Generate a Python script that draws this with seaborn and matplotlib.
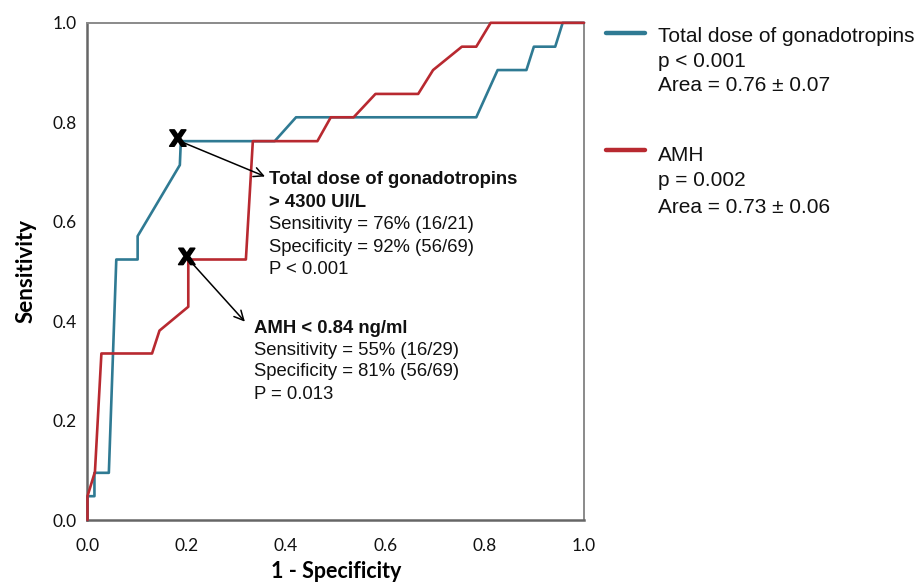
import matplotlib
matplotlib.use("Agg")
import matplotlib.pyplot as plt
from matplotlib.lines import Line2D
import matplotlib.patheffects as pe
import seaborn as sns
import pandas as pd

# ---- data ----
gonad_fpr = [0.0, 0.0, 0.014, 0.014, 0.043, 0.058, 0.101, 0.101, 0.186, 0.188,
             0.377, 0.420, 0.783, 0.826, 0.884, 0.899, 0.942, 0.957, 1.0]
gonad_tpr = [0.0, 0.048, 0.048, 0.095, 0.095, 0.524, 0.524, 0.571, 0.714, 0.762,
             0.762, 0.810, 0.810, 0.905, 0.905, 0.952, 0.952, 1.0, 1.0]

amh_fpr = [0.0, 0.0, 0.015, 0.028, 0.130, 0.145, 0.203, 0.203, 0.319, 0.333,
           0.463, 0.490, 0.536, 0.580, 0.666, 0.696, 0.754, 0.783, 0.812, 1.0]
amh_tpr = [0.0, 0.048, 0.097, 0.335, 0.335, 0.381, 0.429, 0.524, 0.524, 0.762,
           0.762, 0.810, 0.810, 0.857, 0.857, 0.905, 0.952, 0.952, 1.0, 1.0]

series_names = ["Total dose of gonadotropins", "AMH"]
series_p = ["p < 0.001", "p = 0.002"]
series_area = ["Area = 0.76 \u00b1 0.07", "Area = 0.73 \u00b1 0.06"]

cut_points = [(0.182, 0.764), (0.200, 0.526)]
cut_titles = [["Total dose of gonadotropins", "> 4300 UI/L"], ["AMH < 0.84 ng/ml"]]
cut_lines = [["Sensitivity = 76% (16/21)", "Specificity = 92% (56/69)", "P < 0.001"],
             ["Sensitivity = 55% (16/29)", "Specificity = 81% (56/69)", "P = 0.013"]]

ticks = [0.0, 0.2, 0.4, 0.6, 0.8, 1.0]
tick_labels = ["0.0", "0.2", "0.4", "0.6", "0.8", "1.0"]

BLUE = "#2f7a93"
RED = "#b82930"
SANS = ["Liberation Sans", "DejaVu Sans"]

sns.set_theme(style="white")
plt.rcParams["font.family"] = SANS

fig = plt.figure(figsize=(9.2, 5.85), dpi=100)
ax = fig.add_axes([0.0951, 0.111, 0.5397, 0.850])

df = pd.concat([
    pd.DataFrame({"fpr": gonad_fpr, "tpr": gonad_tpr, "var": series_names[0]}),
    pd.DataFrame({"fpr": amh_fpr, "tpr": amh_tpr, "var": series_names[1]}),
])
sns.lineplot(data=df, x="fpr", y="tpr", hue="var", units="var", estimator=None,
             sort=False, palette=[BLUE, RED], linewidth=1.9, legend=False, ax=ax,
             clip_on=False, zorder=3)

ax.set_xlim(0, 1)
ax.set_ylim(0, 1)
ax.set_xticks(ticks)
ax.set_yticks(ticks)
ax.set_xticklabels(tick_labels, fontfamily="Lato", fontsize=12.5)
ax.set_yticklabels(tick_labels, fontfamily="Lato", fontsize=12.5)
ax.tick_params(axis="both", direction="out", length=6, width=1.6, color="#666666",
               labelcolor="#111111")
ax.tick_params(axis="x", pad=7)
ax.tick_params(axis="y", pad=2)
for side in ["left", "bottom"]:
    ax.spines[side].set_color("#666666")
    ax.spines[side].set_linewidth(1.8)
for side in ["top", "right"]:
    ax.spines[side].set_color("#8a8a8a")
    ax.spines[side].set_linewidth(1.4)

ax.set_xlabel("1 - Specificity", fontfamily="Lato", fontweight="bold", fontsize=15.5,
              labelpad=5, color="black")
ax.set_ylabel("Sensitivity", fontfamily="Lato", fontweight="bold", fontsize=16,
              labelpad=11, color="black")

# cut-off markers and arrows
arrow_heads = [(0.3575, 0.691), (0.317, 0.399)]
for (px, py), (hx, hy) in zip(cut_points, arrow_heads):
    ax.annotate("", xy=(hx, hy), xytext=(px + 0.004, py - 0.002),
                arrowprops=dict(arrowstyle="->", color="black", lw=1.1,
                                mutation_scale=17, shrinkA=0, shrinkB=0), zorder=5)
    ax.text(px, py, "X", fontsize=16, fontweight="bold", ha="center", va="center",
            zorder=6, fontfamily="DejaVu Sans", color="black",
            path_effects=[pe.withStroke(linewidth=1.2, foreground="black")])

block_pos = [(0.3655, [0.684, 0.638, 0.594, 0.548, 0.503]),
             (0.335, [0.386, 0.341, 0.298, 0.252])]
for (bx, ys), titles, lines in zip(block_pos, cut_titles, cut_lines):
    allt = [(t, "bold") for t in titles] + [(l, "normal") for l in lines]
    for (t, w), yy in zip(allt, ys):
        ax.text(bx, yy, t, fontsize=13.3, fontweight=w, ha="left", va="center",
                zorder=6, fontfamily=SANS, color="#111111")

# legend drawn manually
leg_rows = [(0.944, [0.938, 0.895, 0.853]), (0.744, [0.735, 0.692, 0.646])]
for color, (ly, tys), name, p, area in zip([BLUE, RED], leg_rows, series_names, series_p, series_area):
    fig.add_artist(Line2D([0.659, 0.701], [ly, ly], color=color, lw=3.2, transform=fig.transFigure))
    for t, yy in zip([name, p, area], tys):
        fig.text(0.715, yy, t, fontsize=15, ha="left", va="center", fontfamily=SANS,
                 color="#111111")

fig.savefig("out.png", dpi=100)
